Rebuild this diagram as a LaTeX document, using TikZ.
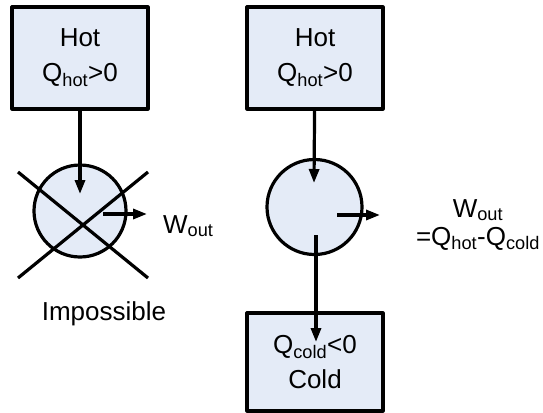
\documentclass[tikz,border=0pt]{standalone}
\usepackage{fontspec}
\setmainfont{Liberation Sans}
\usetikzlibrary{arrows.meta}

\definecolor{reservoirfill}{HTML}{E4EBF7}

\begin{document}
\begin{tikzpicture}[
  x=1pt,
  y=-1pt,
  line join=round,
  font=\fontsize{26}{35}\selectfont,
  reservoir/.style={draw,fill=reservoirfill,line width=3.2pt,minimum width=136pt,align=center,inner sep=0pt},
  engine/.style={circle,draw,fill=reservoirfill,line width=3.2pt,inner sep=0pt},
  flow/.style={draw,line width=3.2pt,-{Triangle[length=14pt,width=10pt]}},
  crossline/.style={draw,line width=3.2pt}
]
  % Frame of the original artwork.
  \useasboundingbox (0,0) rectangle (543,412);

  % Left: a heat engine with no cold reservoir.
  \node[reservoir,minimum height=102pt] (hotL) at (80,58) {Hot\\Q\textsubscript{hot}>0};
  \node[engine,minimum size=92pt] (engL) at (80,211) {};
  \coordinate (tipL) at (80,194);
  \coordinate (workLstart) at (103,214);
  \coordinate (workLend) at (147,214);
  \draw[flow] (hotL) -- (tipL);
  \draw[flow] (workLstart) -- (workLend);
  \node[anchor=base west,inner sep=0pt] (workL) at (163,233) {W\textsubscript{out}};

  % The cross marking it impossible.
  \coordinate (crossA) at (18,172);
  \coordinate (crossB) at (148,278);
  \coordinate (crossC) at (18,278);
  \coordinate (crossD) at (148,172);
  \draw[crossline] (crossA) -- (crossB);
  \draw[crossline] (crossC) -- (crossD);
  \node[anchor=base,inner sep=0pt] (impossible) at (104,320) {Impossible};

  % Right: a working engine between hot and cold reservoirs.
  \node[reservoir,minimum height=102pt] (hotR) at (315,58) {Hot\\Q\textsubscript{hot}>0};
  \node[engine,minimum size=95pt] (engR) at (314.5,207) {};
  \node[reservoir,minimum height=98pt] (coldR) at (315,362) {Q\textsubscript{cold}<0\\Cold};
  \coordinate (tipR) at (314,183);
  \coordinate (workRstart) at (337,215);
  \coordinate (workRend) at (380,215);
  \coordinate (coldstart) at (316,235);
  \coordinate (coldtip) at (316,342);
  \draw[flow] (hotR) -- (tipR);
  \draw[flow] (workRstart) -- (workRend);
  \draw[flow] (coldstart) -- (coldtip);
  \node[align=center,inner sep=0pt,anchor=base] (workR) at (478,245) {W\textsubscript{out}\\[-7pt]=Q\textsubscript{hot}-Q\textsubscript{cold}};
\end{tikzpicture}
\end{document}
